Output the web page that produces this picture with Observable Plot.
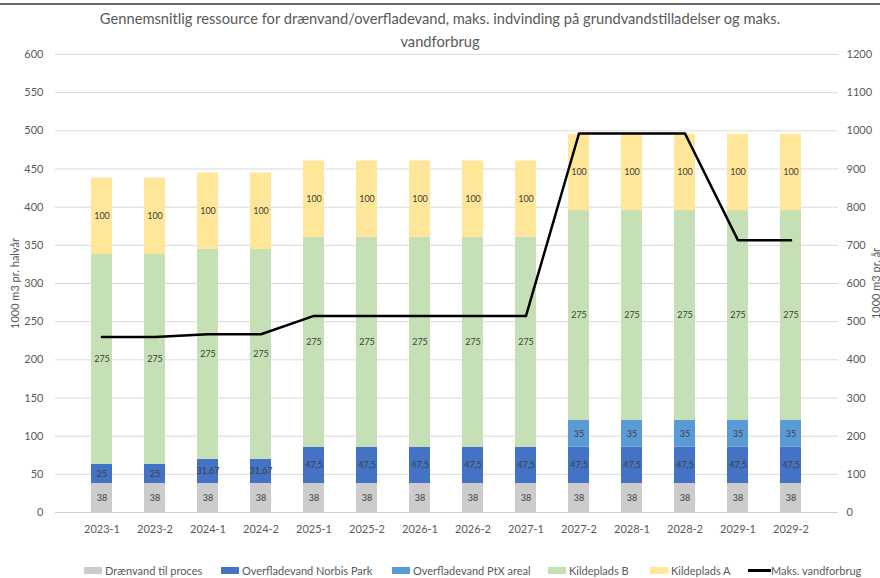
<!DOCTYPE html>
<html>
<head>
<meta charset="utf-8">
<script src="https://cdn.jsdelivr.net/npm/d3@7"></script>
<script src="https://cdn.jsdelivr.net/npm/@observablehq/plot@0.6"></script>
<style>
  html, body { margin: 0; padding: 0; background: #fff; }
  body { width: 880px; height: 578px; position: relative; overflow: hidden; font-family: Lato, "Open Sans", sans-serif; }
  #topline { position: absolute; left: 0; top: 3px; width: 880px; height: 2px; background: #6a6a6a; }
  #title { height: 48px; padding-top: 7px; box-sizing: border-box; text-align: center; font-size: 14.7px; line-height: 23px; color: #595959; }
  #chart svg { display: block; }
  #legend { position: absolute; left: 0; top: 562px; width: 880px; height: 16px; font-size: 11px; color: #595959; }
  .item { position: absolute; top: 0; height: 16px; display: flex; align-items: center; gap: 3px; white-space: nowrap; }
  .sw { width: 18px; height: 7px; display: inline-block; }
  .ln { width: 23px; height: 3px; background: #000; display: inline-block; margin-right: -3px; }
</style>
</head>
<body>
<div id="topline"></div>
<div id="title">Gennemsnitlig ressource for drænvand/overfladevand, maks. indvinding på grundvandstilladelser og maks.<br>vandforbrug</div>
<div id="chart"></div>
<div id="legend"></div>
<script>
const categories = ["2023-1","2023-2","2024-1","2024-2","2025-1","2025-2","2026-1","2026-2","2027-1","2027-2","2028-1","2028-2","2029-1","2029-2"];
const seriesNames = ["Drænvand til proces","Overfladevand Norbis Park","Overfladevand PtX areal","Kildeplads B","Kildeplads A"];
const lineName = "Maks. vandforbrug";
const draenvand = [38,38,38,38,38,38,38,38,38,38,38,38,38,38];
const norbisPark = [25,25,31.67,31.67,47.5,47.5,47.5,47.5,47.5,47.5,47.5,47.5,47.5,47.5];
const ptxAreal = [0,0,0,0,0,0,0,0,0,35,35,35,35,35];
const kildepladsB = [275,275,275,275,275,275,275,275,275,275,275,275,275,275];
const kildepladsA = [100,100,100,100,100,100,100,100,100,100,100,100,100,100];
const maksVandforbrug = [460,460,467,467,515,515,515,515,515,993,993,993,713,713];
const leftTicks = [0,50,100,150,200,250,300,350,400,450,500,550,600];
const colors = ["#cccccc","#4472c4","#5b9bd5","#c5e0b4","#ffe699"];
const legendLeft = [84,221,392,548,650,748];

const seriesValues = [draenvand, norbisPark, ptxAreal, kildepladsB, kildepladsA];
const table = seriesNames.flatMap((s, i) => categories.map((c, j) => ({cat: c, series: s, value: seriesValues[i][j]})));
const lineData = categories.map((c, j) => ({cat: c, v: maksVandforbrug[j]}));
const fmt = v => String(v).replace(".", ",");

const chart = Plot.plot({
  width: 880,
  height: 500,
  marginTop: 6,
  marginBottom: 36,
  marginLeft: 55,
  marginRight: 42,
  style: {fontFamily: "Lato, sans-serif", fontSize: "11px", color: "#595959", background: "white"},
  x: {domain: categories, padding: 0.6, axis: null},
  y: {domain: [0, 600], axis: null},
  color: {domain: seriesNames, range: colors},
  marks: [
    Plot.ruleY(leftTicks.filter(d => d > 0), {stroke: "#d9d9d9", strokeWidth: 1}),
    Plot.ruleY([0], {stroke: "#d0d0d0", strokeWidth: 1}),
    Plot.barY(table, Plot.stackY({x: "cat", y: "value", z: "series", fill: "series"})),
    Plot.text(table, Plot.stackY({x: "cat", y: "value", z: "series", filter: d => d.value > 0, text: d => fmt(d.value), fill: "#404040", fontSize: 9})),
    Plot.line(lineData, {x: "cat", y: d => d.v / 2, stroke: "#000", strokeWidth: 2.5}),
    Plot.axisY({anchor: "left", ticks: leftTicks, tickSize: 0, tickPadding: 12, label: "1000 m3 pr. halvår", labelAnchor: "center", labelOffset: 44, labelArrow: "none", fill: "#595959"}),
    Plot.axisY({anchor: "right", ticks: leftTicks, tickFormat: d => String(d * 2), tickSize: 0, tickPadding: 8, label: "1000 m3 pr. år", labelAnchor: "center", labelOffset: 41, labelArrow: "none", fill: "#595959"}),
    Plot.axisX({tickSize: 0, tickPadding: 13, label: null, fill: "#595959"})
  ]
});
document.getElementById("chart").appendChild(chart);

const legend = document.getElementById("legend");
seriesNames.forEach((s, i) => {
  const it = document.createElement("span");
  it.className = "item";
  it.style.left = legendLeft[i] + "px";
  it.innerHTML = `<span class="sw" style="background:${colors[i]}"></span><span>${s}</span>`;
  legend.appendChild(it);
});
const li = document.createElement("span");
li.className = "item";
li.style.left = legendLeft[5] + "px";
li.innerHTML = `<span class="ln"></span><span>${lineName}</span>`;
legend.appendChild(li);
</script>
</body>
</html>
